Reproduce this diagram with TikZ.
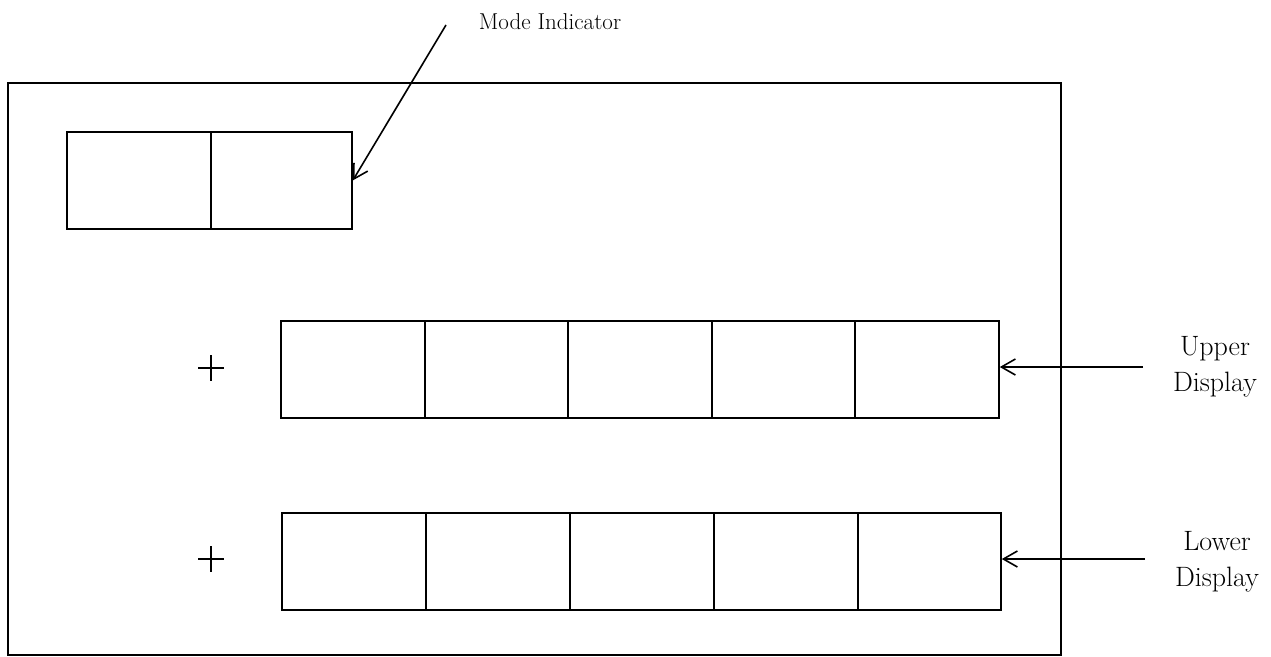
\documentclass[tikz,border=0pt]{standalone}
\usepackage{fontspec}
\usetikzlibrary{arrows.meta}
\begin{document}
\begin{tikzpicture}[x=1pt,y=-1pt,
  frame/.style={draw,line width=1.8pt},
  cell/.style={draw,line width=1.8pt,minimum width=144pt,minimum height=97pt,inner sep=0pt,anchor=north west},
  lbl/.style={font=\fontsize{23}{26.5}\selectfont,align=center},
  sidelbl/.style={font=\fontsize{28}{36}\selectfont,align=center},
  ptr/.style={line width=1.6pt,-{Straight Barb[length=14pt,width=16pt,line width=1.6pt]}},
  cross/.style={line width=1.6pt}]
\useasboundingbox (0,0) rectangle (1271,656);
% outer panel
\node[frame,minimum width=1053pt,minimum height=572pt,inner sep=0pt,anchor=north west] (panel) at (7,82) {};
% mode indicator pair
\node[cell] (m1) at (66,131) {};
\node[cell,minimum width=141pt] (m2) at (210,131) {};
% upper display cells
\node[cell] (u1) at (280,320) {};
\node[cell] (u2) at (423.5,320) {};
\node[cell] (u3) at (567,320) {};
\node[cell] (u4) at (710.5,320) {};
\node[cell] (u5) at (854,320) {};
% lower display cells
\node[cell] (l1) at (281,512) {};
\node[cell] (l2) at (425,512) {};
\node[cell] (l3) at (569,512) {};
\node[cell] (l4) at (713,512) {};
\node[cell,minimum width=143pt] (l5) at (857,512) {};
% sign markers
\draw[cross] (198,368) -- (224,368) (211,355) -- (211,381);
\draw[cross] (198,559) -- (224,559) (211,546) -- (211,572);
% labels
\node[lbl] (tmode) at (550,22) {Mode Indicator};
\node[sidelbl] (tup) at (1215,367) {Upper\\Display};
\node[sidelbl] (tlow) at (1217,562) {Lower\\Display};
% pointers
\coordinate (smode) at (446,25);
\coordinate (sup) at (1143,367);
\coordinate (slow) at (1145,559);
\draw[ptr] (smode) -- (m2.east);
\draw[ptr] (sup) -- (u5.east |- sup);
\draw[ptr] (slow) -- (l5.east |- slow);
\end{tikzpicture}
\end{document}
